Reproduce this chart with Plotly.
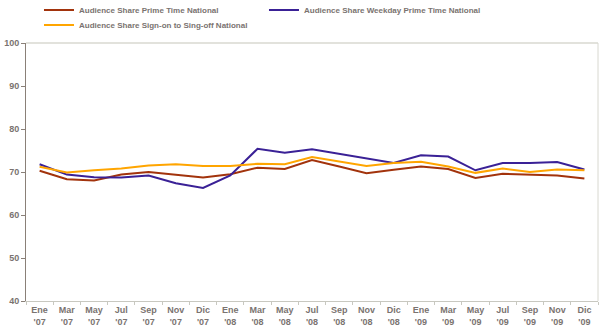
import plotly.graph_objects as go

categories = ["Ene<br>'07", "Mar<br>'07", "May<br>'07", "Jul<br>'07", "Sep<br>'07", "Nov<br>'07", "Dic<br>'07",
              "Ene<br>'08", "Mar<br>'08", "May<br>'08", "Jul<br>'08", "Sep<br>'08", "Nov<br>'08", "Dic<br>'08",
              "Ene<br>'09", "Mar<br>'09", "May<br>'09", "Jul<br>'09", "Sep<br>'09", "Nov<br>'09", "Dic<br>'09"]

prime_time = [70.3, 68.3, 68.0, 69.4, 70.0, 69.4, 68.7, 69.5, 71.0, 70.7, 72.8, 71.3, 69.7, 70.5,
              71.3, 70.7, 68.6, 69.6, 69.4, 69.2, 68.5]
weekday_prime = [71.8, 69.4, 68.8, 68.7, 69.2, 67.4, 66.3, 69.2, 75.4, 74.5, 75.3, 74.2, 73.2, 72.1,
                 73.9, 73.6, 70.4, 72.1, 72.1, 72.3, 70.6]
sign_on = [71.2, 69.9, 70.4, 70.8, 71.5, 71.8, 71.4, 71.4, 71.9, 71.8, 73.5, 72.4, 71.4, 72.1,
           72.4, 71.3, 69.8, 70.8, 70.0, 70.6, 70.4]

names = ["Audience Share Prime Time National",
         "Audience Share Weekday Prime Time National",
         "Audience Share Sign-on to Sing-off National"]
colors = ["#A2330C", "#3A2196", "#FFA500"]
legend_ids = ["legend", "legend", "legend2"]

font_family = "Liberation Sans, Arial, sans-serif"
text_color = "#7a7370"

fig = go.Figure()
for name, vals, col, lg in zip(names, [prime_time, weekday_prime, sign_on], colors, legend_ids):
    fig.add_trace(go.Scatter(x=categories, y=vals, mode="lines", name=name,
                             line=dict(color=col, width=2), legend=lg))

legend_common = dict(orientation="h", xref="paper", yref="container",
                     xanchor="left", yanchor="middle",
                     entrywidth=180, entrywidthmode="pixels", itemwidth=30,
                     font=dict(family=font_family, size=8, color=text_color, weight="bold"),
                     traceorder="normal", bgcolor="rgba(0,0,0,0)")

fig.update_layout(
    width=600, height=330,
    margin=dict(l=26, r=2, t=43, b=29, autoexpand=False),
    paper_bgcolor="white", plot_bgcolor="white",
    font=dict(family=font_family, size=9, color=text_color),
    showlegend=True,
    legend=dict(legend_common, x=0.0227, y=1 - 10 / 330),
    legend2=dict(legend_common, x=0.0227, y=1 - 25 / 330),
    xaxis=dict(type="category", showgrid=False, showline=True, linecolor="#c8c8c0", linewidth=1,
               ticks="outside", ticklen=3, tickcolor="#c8c8c0", tickson="boundaries",
               tickfont=dict(family=font_family, size=9, color=text_color, weight="bold"),
               tickangle=0, range=[-0.5, 20.5]),
    yaxis=dict(range=[40, 100], dtick=10, showgrid=False, showline=True, linecolor="#8a8078",
               linewidth=1, ticks="outside", ticklen=4, tickcolor="#8a8078", zeroline=False,
               tickfont=dict(family=font_family, size=9, color=text_color, weight="bold")),
    shapes=[
        dict(type="line", xref="paper", yref="paper", x0=0, x1=1, y0=1, y1=1,
             line=dict(color="#d8d8d0", width=1.5)),
        dict(type="line", xref="paper", yref="paper", x0=1, x1=1, y0=0, y1=1,
             line=dict(color="#d8d8d0", width=1)),
    ],
)

fig.write_html("out.html")
